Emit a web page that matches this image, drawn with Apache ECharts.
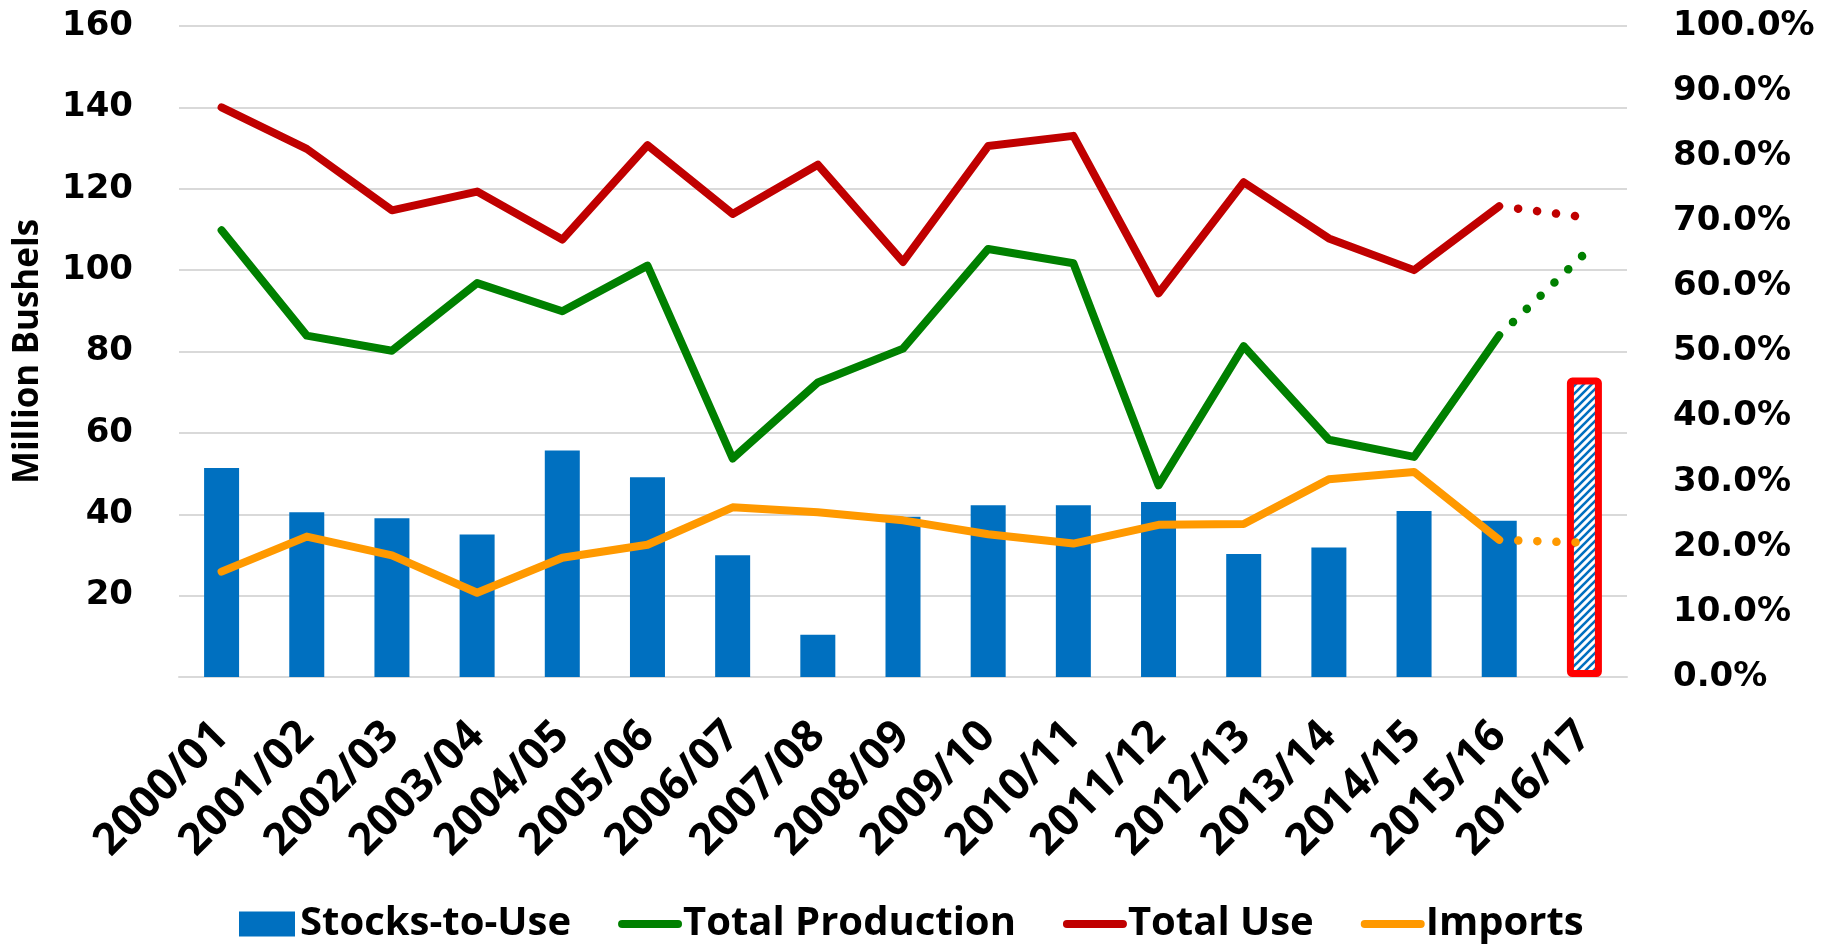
<!DOCTYPE html>
<html>
<head>
<meta charset="utf-8">
<script src="https://cdn.jsdelivr.net/npm/echarts@6/dist/echarts.min.js"></script>
<style>
html,body{margin:0;padding:0;background:#fff;}
#chart{width:1831px;height:944px;}
</style>
</head>
<body>
<div id="chart"></div>
<script>
// marketing years
const categories = ['2000/01','2001/02','2002/03','2003/04','2004/05','2005/06','2006/07','2007/08','2008/09','2009/10','2010/11','2011/12','2012/13','2013/14','2014/15','2015/16','2016/17'];
// stocks-to-use, percent (right axis)
const stocksToUse = [32.1,25.3,24.4,21.9,34.8,30.7,18.7,6.5,24.6,26.4,26.4,26.9,18.9,19.9,25.5,24.0,46.0];
// million bushels (left axis)
const totalProduction = [109.8,83.9,80.2,96.8,89.9,101.1,53.7,72.4,80.7,105.2,101.7,47.1,81.3,58.3,54.1,84.0,104.0];
const totalUse = [140.0,129.8,114.7,119.3,107.5,130.7,113.8,125.9,102.0,130.5,133.0,94.3,121.6,107.8,100.0,115.7,113.0];
const imports = [25.9,34.5,29.9,20.7,29.3,32.5,41.7,40.5,38.5,35.1,32.8,37.4,37.6,48.6,50.4,33.7,33.0];

const lastIdx = categories.length - 1;

// last year is a projection: solid up to 2015/16, dotted after
function actual(arr){ return arr.slice(0, lastIdx); }
function projected(arr){
    return arr.map((v, i) => (i >= lastIdx - 1 ? v : null));
}

// hatch fill for the projected bar
const hatch = document.createElement('canvas');
hatch.width = 8; hatch.height = 8;
const hc = hatch.getContext('2d');
hc.fillStyle = '#fff';
hc.fillRect(0, 0, 8, 8);
hc.strokeStyle = '#0070C0';
hc.lineWidth = 2.6;
hc.beginPath();
hc.moveTo(-1, 9); hc.lineTo(9, -1);
hc.moveTo(-5, 5); hc.lineTo(5, -5);
hc.moveTo(3, 13); hc.lineTo(13, 3);
hc.stroke();

const barData = stocksToUse.map((v, i) => {
    if (i !== lastIdx) return v;
    return {
        value: v,
        itemStyle: {
            color: {image: hatch, repeat: 'repeat'},
            borderColor: '#FF0000',
            borderWidth: 7,
            borderRadius: 2
        }
    };
});

const tickFont = {color:'#000', fontFamily:'DejaVu Sans', fontWeight:'bold', fontSize:34};

function lineSeries(name, color, arr){
    return [{
        name: name, type: 'line', yAxisIndex: 0,
        data: actual(arr),
        symbol: 'none',
        lineStyle: {color: color, width: 8, cap: 'round', join: 'round'},
        itemStyle: {color: color},
        z: 3
    }, {
        name: name, type: 'line', yAxisIndex: 0,
        data: projected(arr),
        symbol: 'none',
        connectNulls: false,
        lineStyle: {color: color, width: 8.5, type: [0.1, 19], cap: 'round', dashOffset: -19},
        itemStyle: {color: color},
        z: 3
    }];
}

// line items in the legend: plain line, no marker
const noMarker = {color: 'rgba(0,0,0,0)', borderColor: 'rgba(0,0,0,0)', borderWidth: 0};

const chart = echarts.init(document.getElementById('chart'));
const option = {
    animation: false,
    grid: {left: 179, right: 204, top: 26, bottom: 267},
    legend: {
        left: 234, top: 899,
        itemWidth: 56, itemHeight: 25, itemGap: 47,
        textStyle: {color:'#000', fontFamily:'Open Sans', fontWeight:'bold', fontSize:40},
        lineStyle: {width: 8, cap: 'round'},
        data: [
            {name: 'Stocks-to-Use', icon: 'rect'},
            {name: 'Total Production', itemStyle: noMarker},
            {name: 'Total Use', itemStyle: noMarker},
            {name: 'Imports', itemStyle: noMarker}
        ]
    },
    xAxis: {
        type: 'category',
        data: categories,
        axisTick: {show: false},
        axisLine: {lineStyle: {color: '#D9D9D9', width: 2}},
        axisLabel: {
            interval: 0, rotate: 45, margin: 52,
            color:'#000', fontFamily:'Open Sans', fontWeight:'bold', fontSize:44
        }
    },
    yAxis: [{
        type: 'value', min: 0, max: 160, interval: 20,
        name: 'Million Bushels', nameLocation: 'middle', nameGap: 133,
        nameTextStyle: {color:'#000', fontFamily:'Open Sans', fontWeight:'bold', fontSize:35},
        axisLine: {show: false}, axisTick: {show: false},
        axisLabel: Object.assign({margin: 46, formatter: v => (v === 0 ? '' : v)}, tickFont),
        splitLine: {lineStyle: {color: '#D9D9D9', width: 2}}
    }, {
        type: 'value', min: 0, max: 100, interval: 10, position: 'right',
        axisLine: {show: false}, axisTick: {show: false},
        axisLabel: Object.assign({margin: 46, formatter: v => v.toFixed(1) + '%'}, tickFont),
        splitLine: {show: false}
    }],
    series: [{
        name: 'Stocks-to-Use', type: 'bar', yAxisIndex: 1,
        data: barData, barWidth: 35,
        itemStyle: {color: '#0070C0'},
        z: 2
    }]
    .concat(lineSeries('Total Production', '#008000', totalProduction))
    .concat(lineSeries('Total Use', '#C00000', totalUse))
    .concat(lineSeries('Imports', '#FF9900', imports))
};
chart.setOption(option);
</script>
</body>
</html>
